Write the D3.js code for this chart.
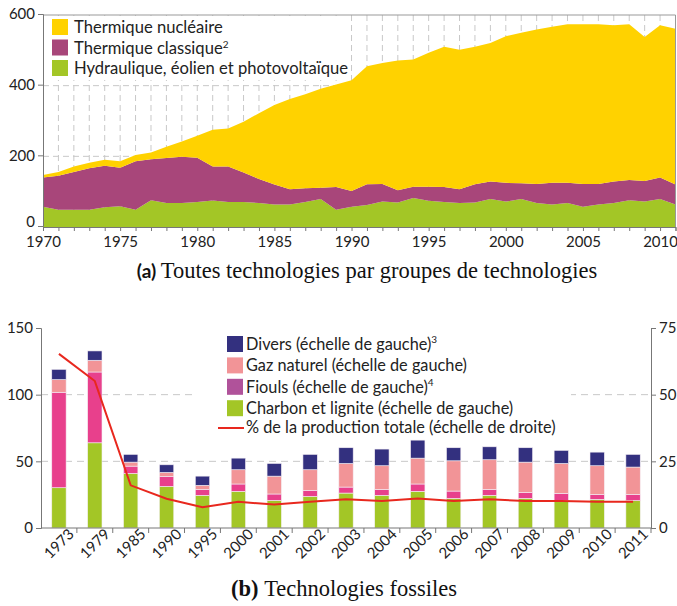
<!DOCTYPE html>
<html>
<head>
<meta charset="utf-8">
<script src="https://cdn.jsdelivr.net/npm/d3@7"></script>
<style>
body{margin:0;background:#fff;}
svg{font-family:Lato,"Open Sans",sans-serif;}
.axis path,.axis line{stroke:#777;}
.axis text{font-size:15px;fill:#222;font-family:Lato,sans-serif;}
.leg{font-size:16.6px;fill:#222;}
.leg2{font-size:16.3px;fill:#222;}
.cap{font-family:"Liberation Serif","DejaVu Serif",serif;font-size:22.5px;fill:#111;}
</style>
</head>
<body>
<svg id="chart" width="677" height="606"></svg>
<script>
// ---- (a) data, TWh
var years = d3.range(1970, 2012)
var hydro = [57,49,49,49,56,59,49,76,68,68,71,75,71,71,68,64,64,71,79,49,57,62,72,69,82,74,71,68,69,79,72,79,68,64,68,57,64,68,76,72,79,64]
var classique = [83,96,107,117,117,109,137,116,127,131,125,96,100,83,68,56,43,39,32,64,45,59,50,35,32,40,42,39,52,50,53,45,54,61,57,65,58,61,57,58,61,56]
var nucleaire = [7,11,15,16,17,18,18,19,32,43,62,104,108,144,186,225,255,266,280,290,313,334,342,367,360,379,397,395,389,392,415,426,437,442,449,452,452,442,441,408,431,441]
var keysA = ["hydro","classique","nucleaire"]
var namesA = ["Hydraulique, éolien et photovoltaïque","Thermique classique","Thermique nucléaire"]
var colorsA = ["#a3c626","#a8467a","#ffd200"]

// ---- (b) data
var cats = ["1973","1979","1985","1990","1995","2000","2001","2002","2003","2004","2005","2006","2007","2008","2009","2010","2011"]
var charbon = [30.2,63.9,40.9,31.2,24.5,27.5,20.7,23.7,26.2,24.5,27.5,22.2,24.5,22.2,20.7,21.5,20.5]
var fiouls = [71.6,53.1,5.5,7.5,4.5,5.5,4.8,4.5,4.5,4.5,5.5,5.5,4.5,4.5,5.3,3.7,4.7]
var gaz = [9.5,8.8,3.0,3.0,3.0,10.7,13.4,15.5,17.7,17.7,19.4,22.7,22.2,22.7,22.4,21.5,20.5]
var divers = [7.7,7.0,5.8,5.7,6.9,8.7,9.5,11.5,11.8,12.5,13.5,9.8,9.7,10.8,9.8,10.2,9.5]
var partTotale = [65.3,55.1,16,11,7.8,9.8,8.8,9.8,10.8,10.1,11.1,10.1,10.8,10.1,10.1,9.8,9.8]
var keysB = ["charbon","fiouls","gaz","divers"]
var colorsB = ["#a3c626","#e8408c","#f29497","#33307f"]

var svg = d3.select("#chart")

// ================= chart (a)
var xa = d3.scaleLinear().domain([1970, 2011]).range([43, 675.5])
var ya = d3.scaleLinear().domain([0, 600]).range([227, 15])

var gA = svg.append("g")

// grid
gA.append("g").selectAll("line")
.data(d3.range(1971, 2011))
.enter().append("line")
.attr("x1", function(d){return xa(d)}).attr("x2", function(d){return xa(d)})
.attr("y1", ya(600)).attr("y2", ya(0))
.attr("stroke", "#c8c8c8").attr("stroke-dasharray", "6,4")
gA.append("g").selectAll("line")
.data([200, 400])
.enter().append("line")
.attr("x1", xa(1970)).attr("x2", xa(2011))
.attr("y1", function(d){return ya(d)}).attr("y2", function(d){return ya(d)})
.attr("stroke", "#c8c8c8").attr("stroke-dasharray", "6,4")

var rowsA = years.map(function(y, i){
  return {year: y, hydro: hydro[i], classique: classique[i], nucleaire: nucleaire[i]}
})
var stackA = d3.stack().keys(keysA)(rowsA)
var area = d3.area()
.x(function(d){return xa(d.data.year)})
.y0(function(d){return ya(d[0])})
.y1(function(d){return ya(d[1])})

gA.append("g").selectAll("path")
.data(stackA)
.enter().append("path")
.attr("d", area)
.attr("fill", function(d, i){return colorsA[i]})

// frame
gA.append("path")
.attr("d", "M" + xa(1970) + "," + ya(600) + "H" + xa(2011) + "V" + ya(0))
.attr("fill", "none").attr("stroke", "#999")

// axes
gA.append("g").attr("class", "axis")
.attr("transform", "translate(" + xa(1970) + ",-1)")
.call(d3.axisLeft(ya).tickValues([0, 200, 400, 600]).tickSize(5).tickPadding(3))
.selectAll("text")
.filter(function(d){return d == 0})
.attr("dy", "0.05em")
gA.append("g").attr("class", "axis")
.attr("transform", "translate(0," + ya(0) + ")")
.call(d3.axisBottom(xa).tickValues(years).tickSize(4).tickPadding(5)
  .tickFormat(function(d){return d % 5 == 0 ? d : ""}))

// legend
gA.append("rect")
.attr("x", 44).attr("y", 16).attr("width", 306).attr("height", 64)
.attr("fill", "#fff")
var legA = gA.append("g")
var legOrder = [2, 1, 0]
legOrder.forEach(function(k, i){
  legA.append("rect")
  .attr("x", 52).attr("y", 19 + i * 20.5).attr("width", 16).attr("height", 16)
  .attr("fill", colorsA[k])
  var t = legA.append("text").attr("class", "leg")
  .attr("x", 74).attr("y", 33 + i * 20.5)
  .text(namesA[k])
  if (k == 1) t.append("tspan").attr("font-size", "10px").attr("dy", "-6").text("2")
})

// caption a
var capA = svg.append("text").attr("class", "cap")
.attr("x", 367).attr("y", 278).attr("text-anchor", "middle")
capA.append("tspan").attr("font-family", "Lato,sans-serif").attr("font-weight", "bold").attr("font-size", "19px").text("(a) ")
capA.append("tspan").text("Toutes technologies par groupes de technologies")

// ================= chart (b)
var xb = d3.scaleBand().domain(cats).range([41, 651]).paddingInner(0.6).paddingOuter(0.3)
var yb = d3.scaleLinear().domain([0, 150]).range([528, 328])
var yr = d3.scaleLinear().domain([0, 75]).range([528, 328])

var gB = svg.append("g")

gB.append("g").selectAll("line")
.data([50, 100])
.enter().append("line")
.attr("x1", 41).attr("x2", 651)
.attr("y1", function(d){return yb(d)}).attr("y2", function(d){return yb(d)})
.attr("stroke", "#c8c8c8").attr("stroke-dasharray", "7,5")

var rowsB = cats.map(function(c, i){
  return {cat: c, charbon: charbon[i], fiouls: fiouls[i], gaz: gaz[i], divers: divers[i]}
})
var stackB = d3.stack().keys(keysB)(rowsB)

gB.append("g").selectAll("g")
.data(stackB)
.enter().append("g")
.attr("fill", function(d, i){return colorsB[i]})
.selectAll("rect")
.data(function(d){return d})
.enter().append("rect")
.attr("x", function(d){return xb(d.data.cat)})
.attr("width", xb.bandwidth())
.attr("y", function(d){return yb(d[1])})
.attr("height", function(d){return yb(d[0]) - yb(d[1])})
.attr("stroke", "#f4eef4").attr("stroke-width", 0.6)

// legend white box
gB.append("rect")
.attr("x", 197).attr("y", 333).attr("width", 374).attr("height", 104)
.attr("fill", "#fff")

// red line
var line = d3.line()
.x(function(d, i){return xb(cats[i]) + xb.bandwidth() / 2})
.y(function(d){return yr(d)})
gB.append("path")
.datum(partTotale)
.attr("d", line)
.attr("fill", "none").attr("stroke", "#e8281e").attr("stroke-width", 2)

// axes
gB.append("g").attr("class", "axis")
.attr("transform", "translate(41,0)")
.call(d3.axisLeft(yb).tickValues([0, 50, 100, 150]).tickSize(5).tickPadding(3))
gB.append("g").attr("class", "axis")
.attr("transform", "translate(651,0)")
.call(d3.axisRight(yr).tickValues([0, 25, 50, 75]).tickSize(5).tickPadding(3))

var step = xb.step()
var xAxis = gB.append("g").attr("class", "axis")
xAxis.append("line").attr("x1", 41).attr("x2", 651).attr("y1", 528).attr("y2", 528)
xAxis.selectAll(".tk")
.data(cats)
.enter().append("line")
.attr("class", "tk")
.attr("x1", function(d){return xb(d) + xb.bandwidth() / 2 + step / 2})
.attr("x2", function(d){return xb(d) + xb.bandwidth() / 2 + step / 2})
.attr("y1", 528).attr("y2", 533)
xAxis.selectAll(".lb")
.data(cats)
.enter().append("text")
.attr("class", "lb")
.attr("text-anchor", "end")
.attr("transform", function(d){
  return "translate(" + (xb(d) + xb.bandwidth() / 2 + 16) + ",535)rotate(-45)"
})
.text(function(d){return d})

// legend b
var legB = [
  {name: "Divers (échelle de gauche)", sup: "3", color: "#33307f"},
  {name: "Gaz naturel (échelle de gauche)", sup: "", color: "#f29497"},
  {name: "Fiouls (échelle de gauche)", sup: "4", color: "#b0529a"},
  {name: "Charbon et lignite (échelle de gauche)", sup: "", color: "#a3c626"}
]
var lg = gB.append("g")
legB.forEach(function(d, i){
  lg.append("rect")
  .attr("x", 227).attr("y", 336 + i * 21.4).attr("width", 16).attr("height", 16)
  .attr("fill", d.color)
  var t = lg.append("text").attr("class", "leg2")
  .attr("x", 246).attr("y", 350 + i * 21.4)
  .text(d.name)
  if (d.sup) t.append("tspan").attr("font-size", "10px").attr("dy", "-7").text(d.sup)
})
lg.append("line")
.attr("x1", 218).attr("x2", 244).attr("y1", 428).attr("y2", 428)
.attr("stroke", "#e8281e").attr("stroke-width", 2)
lg.append("text").attr("class", "leg2")
.attr("x", 246).attr("y", 433)
.text("% de la production totale (échelle de droite)")

// caption b
var capB = svg.append("text").attr("class", "cap")
.attr("x", 344).attr("y", 596).attr("text-anchor", "middle")
capB.append("tspan").attr("font-weight", "bold").text("(b) ")
capB.append("tspan").text("Technologies fossiles")
</script>
</body>
</html>
